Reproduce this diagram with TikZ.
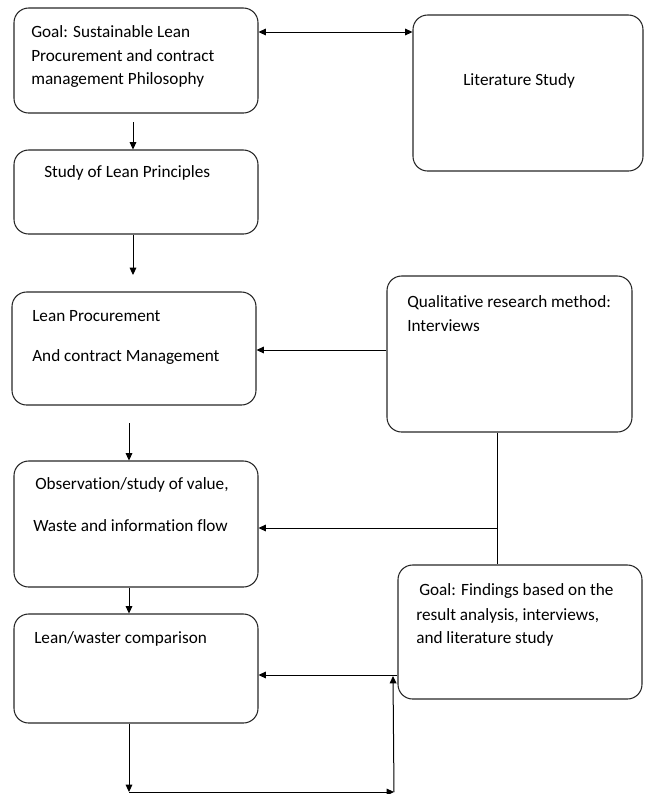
\documentclass[tikz,border=0pt]{standalone}
\usepackage{fontspec}
\setmainfont{Carlito}[Ligatures={NoCommon,NoContextual}]
\usetikzlibrary{arrows.meta,fit}
\begin{document}
\begin{tikzpicture}[x=0.75pt,y=-0.75pt,
  box/.style={draw=black!85, line width=0.8pt, rounded corners=11pt, inner sep=0pt},
  txt/.style={anchor=base west, inner sep=0pt, font=\fontsize{12.9}{15}\selectfont},
  link/.style={draw=black, line width=0.75pt},
  arr/.style={link, -{Triangle[length=5.5pt,width=5pt]}},
  twoway/.style={link, {Triangle[length=5.5pt,width=5pt]}-{Triangle[length=5.5pt,width=5pt]}}
]
\useasboundingbox (0,0) rectangle (644,794);

% boxes
\node[box, fit={(14,8) (258,113)}] (goal) {};
\node[box, fit={(413,15) (643,171)}] (lit) {};
\node[box, fit={(14,150) (258,234)}] (study) {};
\node[box, fit={(12,292) (256,405)}] (lpcm) {};
\node[box, fit={(387,276) (632,432)}] (qual) {};
\node[box, fit={(14,461) (258,587)}] (obs) {};
\node[box, fit={(398,565) (642,699)}] (find) {};
\node[box, fit={(14,614) (258,723)}] (comp) {};

% texts
\node[txt] (goalA) at (31,37) {Goal: Sustainable Lean};
\node[txt] (goalB) at (31,61) {Procurement and contract};
\node[txt] (goalC) at (31,84) {management Philosophy};
\node[txt] (litA) at (463,85) {Literature Study};
\node[txt] (studyA) at (44,177) {Study of Lean Principles};
\node[txt] (lpcmA) at (32,321) {Lean Procurement};
\node[txt] (lpcmB) at (32,361) {And contract Management};
\node[txt] (qualA) at (407,307) {Qualitative research method:};
\node[txt] (qualB) at (407,331) {Interviews};
\node[txt] (obsA) at (35,489) {Observation/study of value,};
\node[txt] (obsB) at (33,531) {Waste and information flow};
\node[txt] (findA) at (419,595) {Goal: Findings based on the};
\node[txt] (findB) at (416,620) {result analysis, interviews,};
\node[txt] (findC) at (416,643) {and literature study};
\node[txt] (compA) at (34,643) {Lean/waster comparison};

% reference points for the connectors
\coordinate (yTop) at (0,32);
\coordinate (s1) at (133,122);
\coordinate (e2) at (133,275);
\coordinate (yQual) at (0,350);
\coordinate (s3) at (129,423);
\coordinate (xSplit) at (497,0);
\coordinate (yObs) at (0,528);
\coordinate (yComp) at (0,675);
\coordinate (cornerL) at (129,792);
\coordinate (cornerR) at (394,792);
\coordinate (upEnd) at (393,676);

% connectors
\draw[twoway] (goal.east |- yTop) -- (lit.west |- yTop);
\draw[arr] (s1) -- (s1 |- study.north);
\draw[arr] (study.south -| e2) -- (e2);
\draw[arr] (qual.west |- yQual) -- (lpcm.east |- yQual);
\draw[arr] (s3) -- (s3 |- obs.north);
\draw[link] (qual.south -| xSplit) -- (find.north -| xSplit);
\draw[arr] (xSplit |- yObs) -- (obs.east |- yObs);
\draw[arr] (obs.south -| s3) -- (comp.north -| s3);
\draw[arr] (find.west |- yComp) -- (comp.east |- yComp);
\draw[arr] (comp.south -| cornerL) -- (cornerL);
\draw[arr] (cornerL) -- (cornerR);
\draw[arr] (cornerR) -- (upEnd);
\end{tikzpicture}
\end{document}
